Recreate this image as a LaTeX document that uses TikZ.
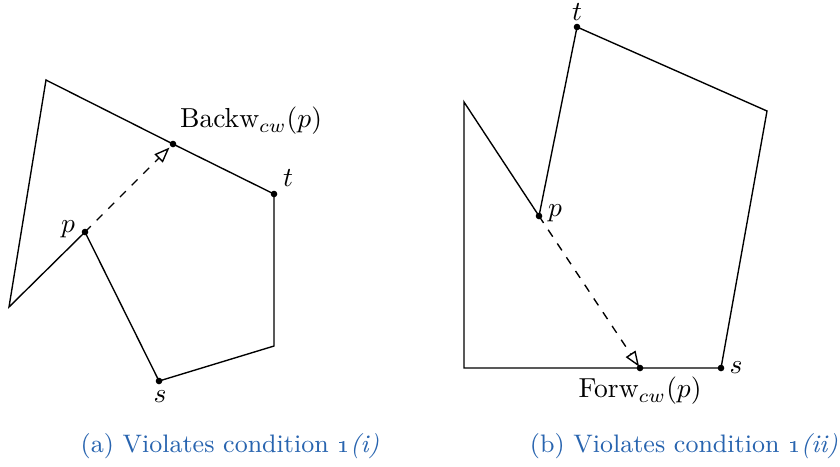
\documentclass[tikz,border=0pt]{standalone}
\usetikzlibrary{arrows.meta}
\definecolor{capblue}{RGB}{40,100,175}
\tikzset{
  edge/.style={line width=0.5pt},
  pt/.style={circle,fill=black,inner sep=0pt,minimum size=2.4pt},
  dasharrow/.style={dashed,line width=0.5pt,-{Triangle[open,length=5.6pt,width=4.2pt]}},
  lbl/.style={inner sep=0pt},
  captext/.style={inner sep=0pt,text=capblue,font=\fontsize{9.2}{11}\selectfont}
}
\begin{document}
\begin{tikzpicture}[x=0.3636pt,y=-0.3636pt]
\useasboundingbox (0,0) rectangle (840,466);
% (a)
\coordinate (a1) at (46,80);
\coordinate (ab) at (173,144);
\coordinate (at) at (274,194);
\coordinate (a4) at (274,346);
\coordinate (as) at (159,381);
\coordinate (ap) at (85,232);
\coordinate (a7) at (9,307);
\draw[edge] (a1) -- (ab) -- (at) -- (a4) -- (as) -- (ap) -- (a7) -- cycle;
\draw[dasharrow,shorten >=1.8pt] (ap) -- (ab);
\foreach \c in {ab,at,as,ap} \node[pt] at (\c) {};
\node[lbl] (lb) at (251,121) {Backw$_{cw}(p)$};
\node[lbl] (lt) at (288,178) {$t$};
\node[lbl] (lp) at (68,229) {$p$};
\node[lbl] (ls) at (160,397) {$s$};
% (b)
\coordinate (b1) at (464,102);
\coordinate (bp) at (539,216);
\coordinate (bt) at (577,27);
\coordinate (b4) at (767,111);
\coordinate (bs) at (721,368);
\coordinate (bf) at (640,368);
\coordinate (b6) at (464,368);
\draw[edge] (b1) -- (bp) -- (bt) -- (b4) -- (bs) -- (bf) -- (b6) -- cycle;
\draw[dasharrow,shorten >=0.6pt] (bp) -- (bf);
\foreach \c in {bp,bt,bs,bf} \node[pt] at (\c) {};
\node[lbl] (mt) at (577,12) {$t$};
\node[lbl] (mp) at (555,213) {$p$};
\node[lbl] (ms) at (736,368) {$s$};
\node[lbl] (mf) at (640,391) {Forw$_{cw}(p)$};
% captions
\node[captext] (ca) at (230,446) {(a) Violates condition \oldstylenums{1}\textit{(i)}};
\node[captext] (cb) at (684,446) {(b) Violates condition \oldstylenums{1}\textit{(ii)}};
\end{tikzpicture}
\end{document}
